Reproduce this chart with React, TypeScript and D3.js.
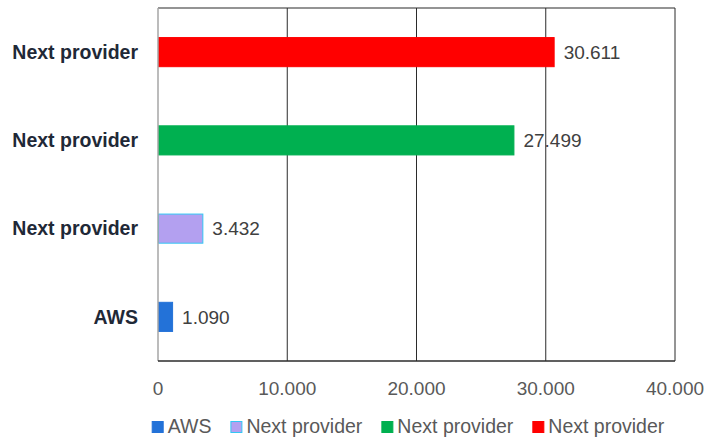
import { useEffect, useRef } from 'react';
import * as d3 from 'd3';

// bottom to top, as in the legend
const providers = ['AWS', 'Next provider', 'Next provider', 'Next provider'];
const costs = [1090, 3432, 27499, 30611];
const fills = ['#2372d8', '#b3a0f0', '#00b050', '#ff0000'];
const strokes = ['#2372d8', '#33c6f4', '#00b050', '#ff0000'];
const ticks = [0, 10000, 20000, 30000, 40000];

const fmt = (v: number) => d3.format(',')(v).replace(/,/g, '.');

export default function App() {
  const svgRef = useRef<SVGSVGElement>(null);
  const width = 706;
  const height = 438;

  useEffect(() => {
    if (!svgRef.current) return;
    const svg = d3.select(svgRef.current);
    svg.selectAll('*').remove();

    const left = 158, right = 675, top = 8, bottom = 361;
    const font = "'Liberation Sans', Arial, sans-serif";

    const x = d3.scaleLinear().domain([0, 40000]).range([left, right]);
    const idx = providers.map((_, i) => i);
    const y = d3.scaleBand<number>()
      .domain(idx.slice().reverse())
      .range([top, bottom])
      .paddingInner(0.67)
      .paddingOuter(0.335);

    // gridlines
    svg.append('g')
      .selectAll('line')
      .data(ticks.slice(1))
      .join('line')
      .attr('x1', d => x(d)).attr('x2', d => x(d))
      .attr('y1', top).attr('y2', bottom)
      .attr('stroke', '#2b2b2b')
      .attr('stroke-width', 1);

    svg.append('line')
      .attr('x1', left).attr('x2', right)
      .attr('y1', top).attr('y2', top)
      .attr('stroke', '#2b2b2b').attr('stroke-width', 1.2);

    // bars
    svg.append('g')
      .selectAll('rect')
      .data(idx)
      .join('rect')
      .attr('x', x(0) + 0.5)
      .attr('y', i => y(i)!)
      .attr('width', i => x(costs[i]) - x(0))
      .attr('height', y.bandwidth())
      .attr('fill', i => fills[i])
      .attr('stroke', i => strokes[i])
      .attr('stroke-width', 1);

    // value labels
    svg.append('g')
      .selectAll('text')
      .data(idx)
      .join('text')
      .attr('x', i => x(costs[i]) + 10)
      .attr('y', i => y(i)! + y.bandwidth() / 2)
      .attr('dy', '0.35em')
      .attr('font-family', font)
      .attr('font-size', 19)
      .attr('fill', '#404040')
      .text(i => fmt(costs[i]));

    // category labels
    svg.append('g')
      .selectAll('text')
      .data(idx)
      .join('text')
      .attr('x', left - 20)
      .attr('y', i => y(i)! + y.bandwidth() / 2)
      .attr('dy', '0.35em')
      .attr('text-anchor', 'end')
      .attr('font-family', font)
      .attr('font-size', 19.5)
      .attr('font-weight', 'bold')
      .attr('fill', '#1f2937')
      .text(i => providers[i]);

    // axes
    svg.append('line')
      .attr('x1', left).attr('x2', left)
      .attr('y1', top).attr('y2', bottom)
      .attr('stroke', '#a6a6a6').attr('stroke-width', 1.5);
    svg.append('line')
      .attr('x1', left).attr('x2', right)
      .attr('y1', bottom).attr('y2', bottom)
      .attr('stroke', '#2b2b2b').attr('stroke-width', 1.5);

    svg.append('g')
      .selectAll('text')
      .data(ticks)
      .join('text')
      .attr('x', d => x(d))
      .attr('y', 395)
      .attr('text-anchor', 'middle')
      .attr('font-family', font)
      .attr('font-size', 19)
      .attr('fill', '#595959')
      .text(d => fmt(d));

    // legend
    const legend = svg.append('g');
    let cx = 0;
    idx.forEach(i => {
      const item = legend.append('g').attr('transform', `translate(${cx},0)`);
      item.append('rect')
        .attr('x', 0.5).attr('y', 421.5)
        .attr('width', 11).attr('height', 11)
        .attr('fill', fills[i])
        .attr('stroke', strokes[i]);
      const t = item.append('text')
        .attr('x', 16)
        .attr('y', 433)
        .attr('font-family', font)
        .attr('font-size', 19.5)
        .attr('fill', '#595959')
        .text(providers[i]);
      const w = (t.node() as SVGTextElement).getComputedTextLength();
      cx += 16 + w + 19;
    });
    const total = cx - 19;
    legend.attr('transform', `translate(${408 - total / 2},0)`);
  }, []);

  return (
    <svg
      ref={svgRef}
      width={width}
      height={height}
      style={{ position: 'absolute', left: 0, top: 0, background: '#fff' }}
    />
  );
}
